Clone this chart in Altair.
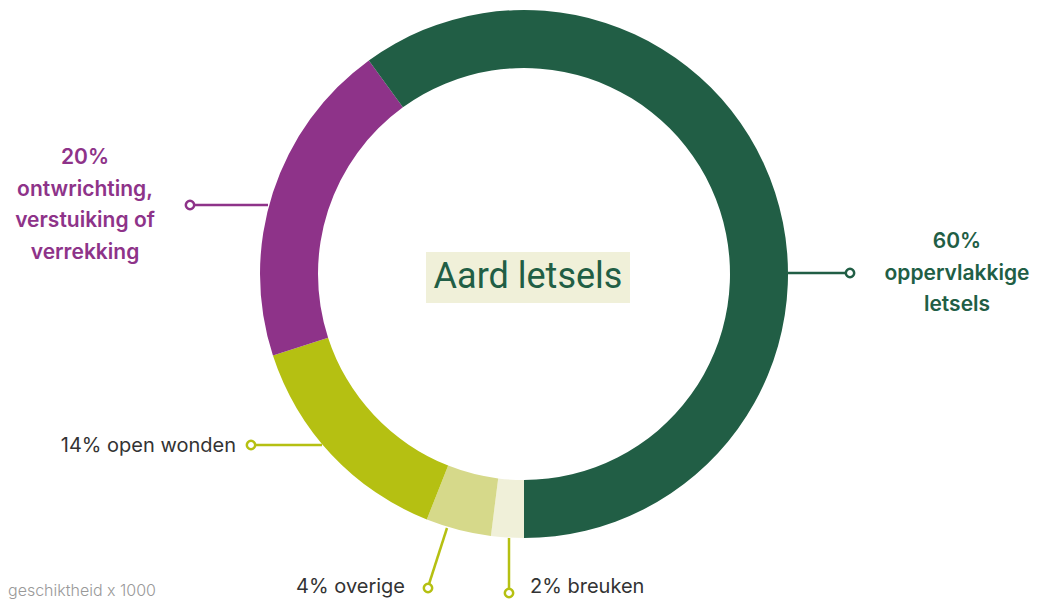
import math
import altair as alt
import pandas as pd

# ---- data ----
categories = ["breuken", "overige", "open wonden",
              "ontwrichting, verstuiking of verrekking", "oppervlakkige letsels"]
values = [2, 4, 14, 20, 60]
colors = ["#f0f0d9", "#d6d98a", "#b5c012", "#8e3389", "#215e45"]
leader_colors = ["#b5c012", "#b5c012", "#b5c012", "#8e3389", "#215e45"]
label_texts = ["2% breuken", "4% overige", "14% open wonden",
               "20%\nontwrichting,\nverstuiking of\nverrekking",
               "60%\noppervlakkige\nletsels"]
title_text = "Aard letsels"
footnote = "geschiktheid x 1000"

# ---- layout (pixel positions of annotations) ----
CX, CY = 516, 266
R_OUT, R_IN = 264, 206

lead_x1 = [501, 439, 314, 260, 780]
lead_y1 = [530, 520, 437, 197, 265]
lead_x2 = [501, 421, 247, 186, 838]
lead_y2 = [582, 576, 437, 197, 265]
dot_x = [501, 420, 243, 182, 842]
dot_y = [585, 580, 437, 197, 265]
lab_x = [522, 397, 228, 77, 949]
lab_y = [579, 579, 438, 150, 234]
lab_align = ["left", "right", "right", "center", "center"]
lab_color = ["#333333", "#333333", "#333333", "#8e3389", "#215e45"]
lab_weight = ["normal", "normal", "normal", 600, 600]
lab_size = [20, 20, 20, 21, 21]

df = pd.DataFrame({
    "cat": categories, "value": values, "idx": list(range(len(values))),
    "x1": lead_x1, "y1": lead_y1, "x2": lead_x2, "y2": lead_y2,
    "dx": dot_x, "dy": dot_y, "lx": lab_x, "ly": lab_y,
    "label": label_texts, "lead": leader_colors,
})

color_scale = alt.Scale(domain=categories, range=colors)

arcs = alt.Chart(df).mark_arc(radius=R_OUT, radius2=R_IN).encode(
    theta=alt.Theta("value:Q", stack=True,
                    scale=alt.Scale(range=[math.pi, 3 * math.pi])),
    color=alt.Color("cat:N", scale=color_scale, legend=None),
    order=alt.Order("idx:Q"),
    x=alt.value(CX), y=alt.value(CY),
)

leaders = alt.Chart(df).mark_rule(strokeWidth=2.5).encode(
    x=alt.X("x1:Q", scale=None), y=alt.Y("y1:Q", scale=None),
    x2="x2:Q", y2="y2:Q",
    color=alt.Color("lead:N", scale=None, legend=None),
)

dots = alt.Chart(df).mark_point(filled=True, fill="white", size=70,
                                strokeWidth=2.5, opacity=1).encode(
    x=alt.X("dx:Q", scale=None), y=alt.Y("dy:Q", scale=None),
    stroke=alt.Stroke("lead:N", scale=None, legend=None),
)

label_layers = []
for i in range(len(values)):
    sub = df.iloc[[i]]
    label_layers.append(
        alt.Chart(sub).mark_text(
            align=lab_align[i], baseline="middle", font="Inter",
            fontSize=lab_size[i], fontWeight=lab_weight[i], lineBreak="\n",
            lineHeight=31.5, color=lab_color[i],
        ).encode(
            x=alt.X("lx:Q", scale=None), y=alt.Y("ly:Q", scale=None),
            text="label:N",
        )
    )

title_bg = alt.Chart(pd.DataFrame({"t": [title_text]})).mark_rect(
    color="#f0f0d9").encode(
    x=alt.value(418), x2=alt.value(622), y=alt.value(244), y2=alt.value(295))

title = alt.Chart(pd.DataFrame({"t": [title_text]})).mark_text(
    font="Roboto", fontSize=36, color="#215e45", align="center",
    baseline="middle").encode(
    x=alt.value(520), y=alt.value(269), text="t:N")

foot = alt.Chart(pd.DataFrame({"t": [footnote]})).mark_text(
    font="Inter", fontSize=16, fontWeight=300, color="#999999", align="left",
    baseline="middle").encode(
    x=alt.value(0), y=alt.value(583), text="t:N")

chart = alt.layer(arcs, leaders, dots, *label_layers, title_bg, title, foot).properties(
    width=1033, height=591,
    autosize=alt.AutoSizeParams(type="none"),
    padding=0,
).configure_view(stroke=None)

chart.save("out.html", embed_options={"renderer": "svg", "actions": False})
